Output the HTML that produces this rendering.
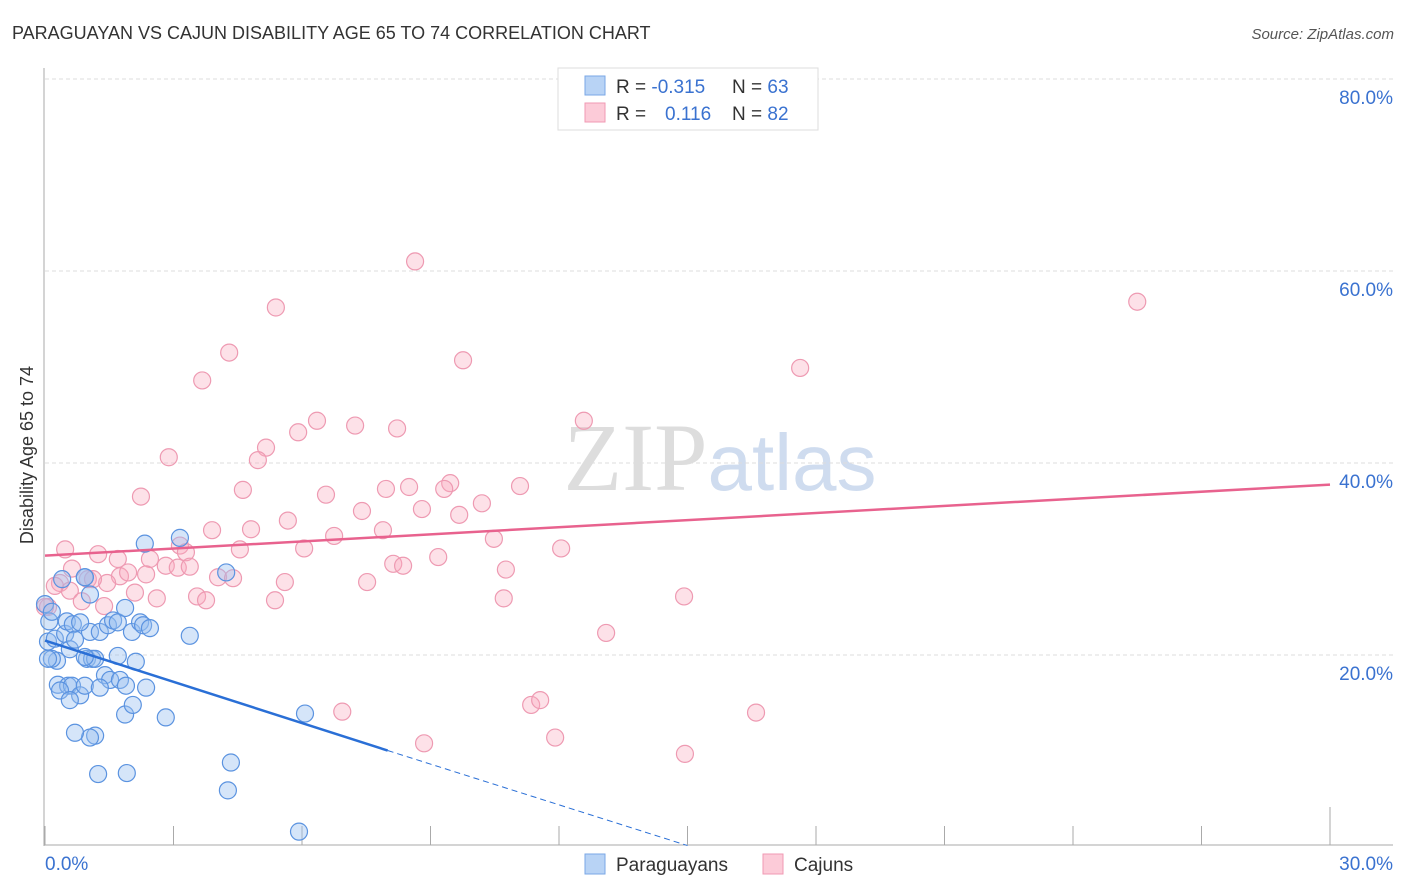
<!DOCTYPE html>
<html><head><meta charset="utf-8">
<style>
body{margin:0;background:#fff;font-family:"Liberation Sans",sans-serif;}
#wrap{position:relative;width:1406px;height:892px;overflow:hidden;}
</style></head>
<body>
<div id="wrap">
<svg id="chart" width="1406" height="892" xmlns="http://www.w3.org/2000/svg">
<text x="12" y="39" font-size="18" fill="#333">PARAGUAYAN VS CAJUN DISABILITY AGE 65 TO 74 CORRELATION CHART</text>
<text x="1394" y="39" font-size="15" fill="#555" font-style="italic" text-anchor="end">Source: ZipAtlas.com</text>
<text x="720" y="490" font-size="96" fill="#ddd" text-anchor="middle" font-family="Liberation Serif,serif">ZIP<tspan fill="#cfdcef" font-family="Liberation Sans,sans-serif" font-size="80">atlas</tspan></text>
<g id="grid"></g>
<g id="axes"></g>
<g id="pts"></g>
<g id="lines"></g>
<text transform="translate(33,455) rotate(-90)" font-size="18" fill="#333" text-anchor="middle">Disability Age 65 to 74</text>
<g>
<rect x="558" y="68" width="260" height="62" fill="#fff" stroke="#ddd"/>
<rect x="585" y="76" width="20" height="19" fill="#b8d3f5" stroke="#7aa7e6"/>
<rect x="585" y="103" width="20" height="19" fill="#fccbd8" stroke="#f09ab3"/>
<text x="616" y="93" font-size="19" fill="#333">R = <tspan fill="#3a72d0">-0.315</tspan></text>
<text x="732" y="93" font-size="19" fill="#333">N = <tspan fill="#3a72d0">63</tspan></text>
<text x="616" y="120" font-size="19" fill="#333">R = <tspan fill="#3a72d0" x="665">0.116</tspan></text>
<text x="732" y="120" font-size="19" fill="#333">N = <tspan fill="#3a72d0">82</tspan></text>
</g>
<g>
<rect x="585" y="854" width="20" height="20" fill="#b8d3f5" stroke="#7aa7e6"/>
<text x="616" y="871" font-size="19" fill="#333">Paraguayans</text>
<rect x="763" y="854" width="20" height="20" fill="#fccbd8" stroke="#f09ab3"/>
<text x="794" y="871" font-size="19" fill="#333">Cajuns</text>
</g>
</svg>
</div>
<script>
const yTicks=[20,40,60,80];
const yTickLabels=["20.0%","40.0%","60.0%","80.0%"];
const xTickLabels=["0.0%","30.0%"];
const blueX=[0.0,0.1,0.07,0.23,0.28,0.16,0.4,0.47,0.51,0.58,0.65,0.7,0.3,0.54,0.63,0.82,0.93,0.98,1.05,1.1,1.17,1.05,0.7,0.93,1.05,1.24,1.28,1.47,1.4,1.52,1.59,1.7,1.7,1.75,1.87,1.89,1.87,1.91,2.03,2.05,2.12,2.22,2.29,2.36,2.45,2.33,2.82,3.15,3.38,4.23,4.34,4.27,5.93,6.07,0.82,0.93,0.35,1.17,1.28,0.93,0.58,0.07,0.16];
const blueY=[25.3,23.5,21.4,21.7,19.4,19.6,27.9,22.2,23.5,20.6,23.2,21.6,16.9,16.8,16.8,15.8,16.8,19.6,22.4,19.6,11.6,11.4,11.9,28.1,26.3,7.6,22.4,23.1,17.9,17.4,23.6,23.4,19.9,17.4,24.9,16.8,13.8,7.7,22.4,14.8,19.3,23.4,23.1,16.6,22.8,31.6,13.5,32.2,22.0,28.6,8.8,5.9,1.6,13.9,23.4,28.1,16.3,19.6,16.6,19.8,15.3,19.6,24.5];
const pinkX=[8.64,25.5,5.39,4.3,9.76,17.63,3.67,6.35,7.24,8.22,12.58,2.89,5.16,4.97,5.91,4.62,2.24,6.56,7.96,8.5,9.46,9.32,11.09,10.2,9.67,7.4,3.9,4.81,5.67,6.75,7.89,8.8,10.48,0.47,1.24,1.7,2.45,3.15,3.29,4.55,6.05,12.05,9.18,0.63,1.0,1.75,1.94,2.36,2.82,3.1,3.38,8.13,8.36,10.76,0.35,0.58,1.45,1.12,2.1,2.61,3.55,3.76,4.04,4.39,5.6,7.52,10.71,14.92,0.86,1.38,5.37,0.07,13.1,6.94,11.35,11.56,16.6,8.85,11.91,14.94,0.0,0.23];
const pinkY=[61.0,56.8,56.2,51.5,50.7,49.9,48.6,44.4,43.9,43.6,44.4,40.6,41.6,40.3,43.2,37.2,36.5,36.7,37.3,37.5,37.9,37.3,37.6,35.8,34.6,35.0,33.0,33.1,34.0,32.4,33.0,35.2,32.1,31.0,30.5,30.0,30.0,31.4,30.7,31.0,31.1,31.1,30.2,29.0,27.9,28.2,28.6,28.4,29.3,29.1,29.2,29.5,29.3,28.9,27.5,26.7,27.5,27.9,26.5,25.9,26.1,25.7,28.1,28.0,27.6,27.6,25.9,26.1,25.6,25.1,25.7,25.0,22.3,14.1,14.8,15.3,14.0,10.8,11.4,9.7,25.0,27.2];
const pinkTrend=[30.35,37.75];
const blueTrend=[21.5,10.05,0.15];
const X0=45,X1=1330,Y0=847,YTOP=79;
const xs=v=>X0+(X1-X0)*v/30;
const ys=v=>Y0-(Y0-YTOP)*v/80;
const NS="http://www.w3.org/2000/svg";
function mk(t,a,p){const e=document.createElementNS(NS,t);for(const k in a)e.setAttribute(k,a[k]);p.appendChild(e);return e;}
const grid=document.getElementById('grid'),axes=document.getElementById('axes'),pts=document.getElementById('pts'),lines=document.getElementById('lines');
yTicks.forEach((v,i)=>{
 const l=mk('line',{x1:45,x2:1393,y1:ys(v),y2:ys(v),stroke:'#ddd','stroke-dasharray':'4,3'},grid);
 
 
 const t=mk('text',{x:1393,y:ys(v)+25,'font-size':19,fill:'#3a72d0','text-anchor':'end'},axes);
 t.textContent=yTickLabels[i];
 
 
});
const ax=mk('line',{x1:44,x2:44,y1:68,y2:846,stroke:'#aaa'},axes);


const bx=mk('line',{x1:44,x2:1393,y1:845,y2:845,stroke:'#aaa'},axes);


for(let i=0;i<=10;i++){
 const x=xs(i*3);
 const tk=mk('line',{x1:x,x2:x,y1:i==10?807:826,y2:845,stroke:'#aaa'},axes);
 
 
}
[[0,45,'start'],[1,1393,'end']].forEach(([i,x,a])=>{
 const t=mk('text',{x:x,y:870,'font-size':19,fill:'#3a72d0','text-anchor':a},axes);
 t.textContent=xTickLabels[i];
 
 
});
pinkX.forEach((v,i)=>{
 const c=mk('circle',{cx:xs(v),cy:ys(pinkY[i]),r:8.5,fill:'rgba(248,170,190,0.35)',stroke:'#ee9ab2','stroke-width':1.2},pts);
 
 
});
blueX.forEach((v,i)=>{
 const c=mk('circle',{cx:xs(v),cy:ys(blueY[i]),r:8.5,fill:'rgba(150,190,240,0.4)',stroke:'#5b93e0','stroke-width':1.2},pts);
 
 
});
const pl=mk('line',{x1:xs(0),y1:ys(pinkTrend[0]),x2:xs(30),y2:ys(pinkTrend[1]),stroke:'#e8628e','stroke-width':2.5},lines);


const bl=mk('line',{x1:xs(0),y1:ys(blueTrend[0]),x2:xs(8),y2:ys(blueTrend[1]),stroke:'#2a6fd6','stroke-width':2.5},lines);


const bd=mk('line',{x1:xs(8),y1:ys(blueTrend[1]),x2:xs(15),y2:ys(blueTrend[2]),stroke:'#2a6fd6','stroke-width':1,'stroke-dasharray':'6,4'},lines);


</script>
</body></html>
